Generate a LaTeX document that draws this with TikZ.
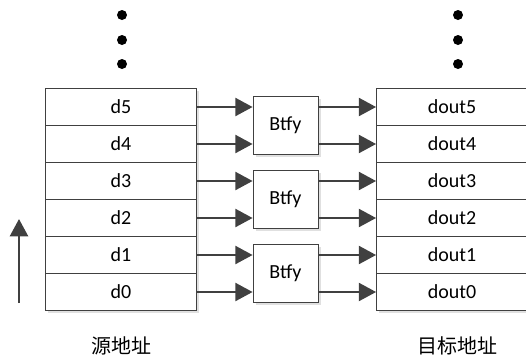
\documentclass[tikz,border=0pt]{standalone}
\usepackage{fontspec}
\setmainfont{Carlito}
\newfontfamily\cjk{Noto Sans CJK SC}
\usetikzlibrary{arrows.meta,shadows}
\definecolor{lc}{HTML}{404040}
\begin{document}
\begin{tikzpicture}[x=0.75pt,y=-0.75pt,
  cell/.style={draw=lc,line width=0.6pt,fill=white,minimum width=113.25pt,minimum height=27.75pt,inner sep=0pt,font=\fontsize{15}{17}\selectfont,
    drop shadow={shadow xshift=2.2pt,shadow yshift=-2.2pt,fill=black!12,opacity=1}},
  bfly/.style={draw=lc,line width=0.6pt,fill=white,minimum width=48.75pt,minimum height=43.5pt,inner sep=0pt,font=\fontsize{15}{17}\selectfont,
    drop shadow={shadow xshift=2.2pt,shadow yshift=-2.2pt,fill=black!12,opacity=1}},
  arr/.style={draw=lc,line width=1.9pt,-{Triangle[length=13pt,width=13.5pt]}},
  dot/.style={circle,fill=black,inner sep=0pt,minimum size=7.5pt}]
\useasboundingbox (0,0) rectangle (526,358);
% left stack
\foreach \i/\t in {0/d5,1/d4,2/d3,3/d2,4/d1,5/d0}{
  \node[cell] (s\i) at (121,{107+37*\i}) {\t};
}
\foreach \i/\t in {0/dout5,1/dout4,2/dout3,3/dout2,4/dout1,5/dout0}{
  \node[cell] (t\i) at (452,{107+37*\i}) {\t};
}
\node[bfly] (b0) at (285.5,125.5) {Btfy};
\node[bfly] (b1) at (285.5,199) {Btfy};
\node[bfly] (b2) at (285.5,273.5) {Btfy};
% arrows
\foreach \i/\b in {0/0,1/0,2/1,3/1,4/2,5/2}{
  \draw[arr] (s\i.east) -- (s\i.east -| b\b.west);
  \draw[arr] (s\i.east -| b\b.east) -- (t\i.west);
}
% dots
\node[dot] (dl1) at (122,15) {};
\node[dot] (dl2) at (122,40) {};
\node[dot] (dl3) at (122,64) {};
\node[dot] (dr1) at (458,15) {};
\node[dot] (dr2) at (458,40) {};
\node[dot] (dr3) at (458,64) {};
% up arrow
\coordinate (ua) at (19,303);
\coordinate (ub) at (19,219);
\draw[arr] (ua) -- (ub);
% labels
\node[font=\cjk\fontsize{15}{17}\selectfont] (ls) at (121,346) {源地址};
\node[font=\cjk\fontsize{15}{17}\selectfont] (lt) at (457,346) {目标地址};
\end{tikzpicture}
\end{document}
